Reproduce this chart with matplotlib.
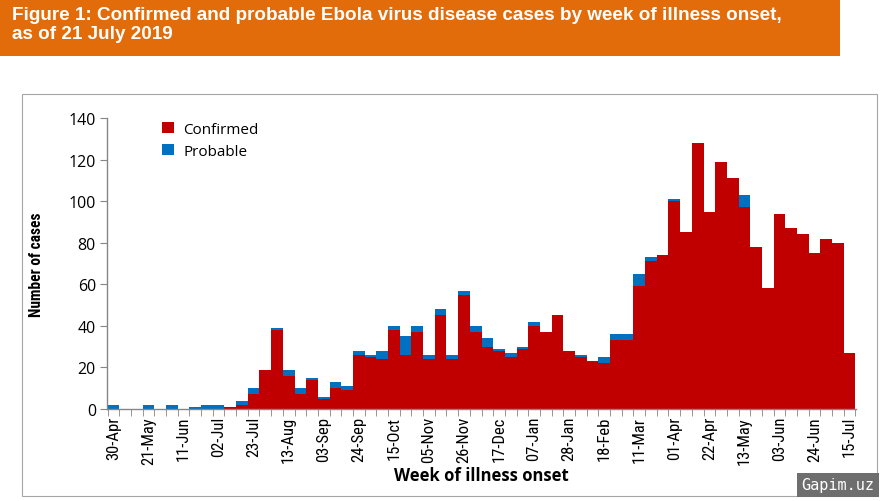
import matplotlib
matplotlib.use("Agg")
import matplotlib.pyplot as plt
from matplotlib import font_manager
from matplotlib.patches import Rectangle
import numpy as np

avail = {f.name for f in font_manager.fontManager.ttflist}
def pick(*names):
    for n in names:
        if n in avail:
            return n
    return "DejaVu Sans"

NARROW = pick("Liberation Sans Narrow", "Roboto Condensed", "DejaVu Sans")
SANS = pick("Open Sans", "Lato", "DejaVu Sans")
ARIAL = pick("Liberation Sans", "DejaVu Sans")

# ---- data ----
week_labels = ["30-Apr", "21-May", "11-Jun", "02-Jul", "23-Jul", "13-Aug", "03-Sep",
               "24-Sep", "15-Oct", "05-Nov", "26-Nov", "17-Dec", "07-Jan", "28-Jan",
               "18-Feb", "11-Mar", "01-Apr", "22-Apr", "13-May", "03-Jun", "24-Jun", "15-Jul"]

confirmed = [0, 0, 0, 0, 0, 0, 0, 0, 0, 0, 1, 2, 7, 19, 38, 16, 7, 14, 5, 10,
             9, 26, 25, 24, 38, 26, 37, 24, 45, 24, 55, 37, 30, 28, 25, 29, 40, 37, 45, 28,
             25, 23, 22, 33, 33, 59, 71, 74, 100, 85, 128, 95, 119, 111, 97, 78, 58, 94, 87, 84,
             75, 82, 80, 27]
probable = [2, 0, 0, 2, 0, 2, 0, 1, 2, 2, 0, 2, 3, 0, 1, 3, 3, 1, 1, 3,
            2, 2, 1, 4, 2, 9, 3, 2, 3, 2, 2, 3, 4, 1, 2, 1, 2, 0, 0, 0,
            1, 0, 3, 3, 3, 6, 2, 0, 1, 0, 0, 0, 0, 0, 6, 0, 0, 0, 0, 0,
            0, 0, 0, 0]

RED = "#C00000"
BLUE = "#0070C0"
ORANGE = "#E36C0A"
GRAY = "#868686"

fig = plt.figure(figsize=(8.85, 5.02), dpi=100)

# title banner
fig.patches.append(Rectangle((0, 1 - 57 / 502), 840 / 885, 57 / 502,
                             transform=fig.transFigure, facecolor=ORANGE,
                             edgecolor="none", zorder=0))
fig.text(12 / 885, 1 - 7 / 502,
         "Figure 1: Confirmed and probable Ebola virus disease cases by week of illness onset,\nas of 21 July 2019",
         color="white", fontsize=13.6, fontweight="bold", family=ARIAL,
         va="top", ha="left", linespacing=1.15)

# chart area border
fig.patches.append(Rectangle((22 / 885, 1 - 497 / 502), (877 - 22) / 885, (497 - 95) / 502,
                             transform=fig.transFigure, facecolor="none",
                             edgecolor="#A6A6A6", linewidth=0.8, zorder=0))

ax = fig.add_axes([107 / 885, 1 - 410 / 502, (856 - 107) / 885, (410 - 119) / 502])
x = np.arange(len(confirmed))
ax.bar(x, confirmed, width=1.0, color=RED, label="Confirmed", linewidth=0)
ax.bar(x, probable, width=1.0, bottom=confirmed, color=BLUE, label="Probable", linewidth=0)

ax.set_xlim(-0.55, len(confirmed) - 0.45)
ax.set_ylim(0, 140)
ax.set_yticks(range(0, 141, 20))
for lab in ax.get_yticklabels():
    lab.set_family(SANS)
ax.tick_params(axis="y", direction="out", length=5, color=GRAY, labelsize=11.5, pad=3)

ax.set_xticks(np.arange(0, len(confirmed), 3))
ax.set_xticklabels(week_labels, rotation=90, family=NARROW, fontsize=12)
ax.set_xticks(np.arange(-0.5, len(confirmed) + 0.5, 1), minor=True)
ax.tick_params(axis="x", which="major", length=0, pad=5)
ax.tick_params(axis="x", which="minor", direction="out", length=5, color=GRAY)

for s in ["top", "right"]:
    ax.spines[s].set_visible(False)
for s in ["left", "bottom"]:
    ax.spines[s].set_color(GRAY)
    ax.spines[s].set_linewidth(1.0)

ax.set_ylabel("Number of cases", family=NARROW, fontweight="bold", fontsize=11.2, labelpad=18)
ax.set_xlabel("Week of illness onset", family=SANS, fontweight="bold", fontsize=12, labelpad=2)

leg = ax.legend(loc="upper left", bbox_to_anchor=(0.055, 1.035), frameon=False,
                handlelength=0.8, handleheight=0.8, handletextpad=0.6,
                labelspacing=0.45, prop={"family": SANS, "size": 11})

# watermark
fig.text(838 / 885, 1 - 486 / 502, "Gapim.uz", color="white", fontsize=11,
         family=pick("DejaVu Sans Mono", "Liberation Mono"), ha="center", va="center",
         bbox=dict(boxstyle="square,pad=0.3", facecolor="#6E6E6E", edgecolor="none"))

fig.savefig("out.png", dpi=100)
